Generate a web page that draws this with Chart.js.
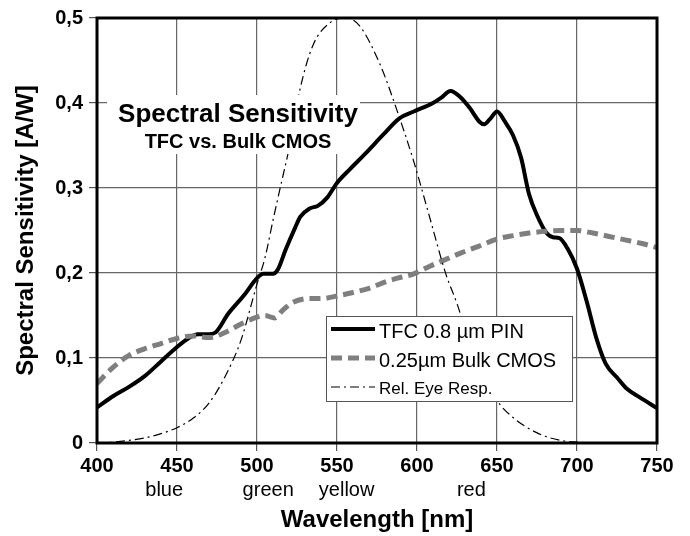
<!DOCTYPE html>
<html>
<head>
<meta charset="utf-8">
<script src="https://cdn.jsdelivr.net/npm/chart.js@4.4.0/dist/chart.umd.min.js"></script>
<style>
html, body { margin: 0; padding: 0; background: #fff; }
#wrap { width: 690px; height: 536px; }
</style>
</head>
<body>
<div id="wrap"><canvas id="chart" width="690" height="536"></canvas></div>
<script>
const FONT = '"Liberation Sans", Arial, Helvetica, sans-serif';

// TFC 0.8 um PIN (wavelength nm / A/W)
const tfcWave = [400, 410, 420, 430, 440, 450, 457, 463, 470, 474, 482, 492, 500, 504, 510, 513, 518, 524, 527, 533,
  538, 544, 550, 558, 568, 579, 589, 598, 610, 615, 621, 627, 633, 639, 642, 646, 650, 655, 660, 665,
  670, 675, 681, 685, 689, 694, 700, 706, 712, 718, 725, 731, 739, 750];
const tfcValues = [0.042, 0.055, 0.066, 0.079, 0.096, 0.113, 0.123, 0.128, 0.128, 0.130, 0.152, 0.174, 0.194, 0.199, 0.199, 0.204, 0.228, 0.254, 0.266, 0.276,
  0.279, 0.289, 0.306, 0.322, 0.341, 0.363, 0.382, 0.390, 0.400, 0.406, 0.414, 0.407, 0.394, 0.378, 0.375, 0.382, 0.390, 0.378, 0.362, 0.336,
  0.293, 0.268, 0.247, 0.242, 0.241, 0.229, 0.205, 0.167, 0.124, 0.093, 0.077, 0.064, 0.054, 0.041];

// 0.25um bulk CMOS
const cmosWave = [400, 410, 420, 430, 440, 450, 460, 470, 480, 490, 500, 505, 511, 516, 522, 533, 541, 550, 560, 570,
  581, 590, 598, 608, 618, 628, 638, 650, 660, 670, 680, 690, 700, 710, 720, 730, 740, 750];
const cmosValues = [0.070, 0.089, 0.103, 0.111, 0.117, 0.123, 0.126, 0.124, 0.130, 0.140, 0.148, 0.150, 0.147, 0.156, 0.165, 0.170, 0.170, 0.173, 0.177, 0.182,
  0.190, 0.195, 0.199, 0.208, 0.216, 0.224, 0.231, 0.240, 0.244, 0.247, 0.249, 0.250, 0.250, 0.247, 0.243, 0.239, 0.235, 0.230];

// relative eye response (scaled to 0.5)
const eyeWave = [400, 410, 420, 430, 440, 450, 460, 470, 480, 490, 500, 505, 510, 514, 521, 527, 535, 546, 555, 564,
  577, 587, 598, 608, 618, 625, 630, 639, 650, 660, 669, 680, 690, 700, 710, 750];
const eyeValues = [0, 0.001, 0.003, 0.006, 0.011, 0.018, 0.029, 0.047, 0.078, 0.121, 0.187, 0.218, 0.262, 0.296, 0.355, 0.417, 0.468, 0.495, 0.500, 0.491,
  0.445, 0.394, 0.331, 0.265, 0.199, 0.164, 0.135, 0.090, 0.050, 0.030, 0.018, 0.008, 0.003, 0.001, 0, 0];

const colorNames = ['blue', 'green', 'yellow', 'red'];
const colorWaves = [442, 507, 556, 634];

const legendLabels = ['TFC 0.8 µm PIN', '0.25µm Bulk CMOS', 'Rel. Eye Resp.'];
const chartTitle = 'Spectral Sensitivity';
const chartSubtitle = 'TFC vs. Bulk CMOS';

function toPoints(xs, ys) {
  return xs.map((x, i) => ({ x: x, y: ys[i] }));
}

// title box, legend box, colour names and plot frame
const overlay = {
  id: 'overlay',
  afterDatasetsDraw(chart) {
    const ctx = chart.ctx;
    const a = chart.chartArea;
    const xs = chart.scales.x;
    ctx.save();

    // title box sits on top of the curves
    ctx.fillStyle = '#fff';
    ctx.fillRect(a.left + 10, a.top + 77, 253, 59);
    ctx.fillStyle = '#000';
    ctx.textAlign = 'center';
    ctx.textBaseline = 'alphabetic';
    ctx.font = 'bold 26px ' + FONT;
    ctx.fillText(chartTitle, 238, a.top + 104);
    ctx.font = 'bold 20px ' + FONT;
    ctx.fillText(chartSubtitle, 238, a.top + 130);

    // legend
    const lx = 326, ly = 316, lw = 246, lh = 85;
    ctx.fillStyle = '#fff';
    ctx.fillRect(lx, ly, lw, lh);
    ctx.strokeStyle = '#555';
    ctx.lineWidth = 1;
    ctx.strokeRect(lx + 0.5, ly + 0.5, lw, lh);
    const order = [2, 1, 0];
    const rows = [13, 42, 71];
    const fonts = ['20px ', '20px ', '17px '];
    order.forEach((di, i) => {
      const ds = chart.data.datasets[di];
      const y = ly + rows[i];
      ctx.beginPath();
      ctx.strokeStyle = ds.borderColor;
      ctx.lineWidth = ds.borderWidth;
      ctx.setLineDash(ds.borderDash || []);
      ctx.moveTo(lx + 5, y);
      ctx.lineTo(lx + 49, y);
      ctx.stroke();
      ctx.setLineDash([]);
      ctx.fillStyle = '#000';
      ctx.textAlign = 'left';
      ctx.font = fonts[i] + FONT;
      ctx.fillText(legendLabels[i], lx + 53, y + (i === 2 ? 7 : 9));
    });

    // colour names under the wavelength ticks
    ctx.fillStyle = '#000';
    ctx.textAlign = 'center';
    ctx.font = '20px ' + FONT;
    colorNames.forEach((n, i) => {
      ctx.fillText(n, xs.getPixelForValue(colorWaves[i]), a.bottom + 53);
    });

    // frame
    ctx.strokeStyle = '#000';
    ctx.lineWidth = 3;
    ctx.strokeRect(a.left, a.top, a.right - a.left, a.bottom - a.top);
    ctx.restore();
  }
};

const ctx = document.getElementById('chart').getContext('2d');
const chart = new Chart(ctx, {
  type: 'line',
  data: {
    datasets: [
      {
        label: legendLabels[2],
        data: toPoints(eyeWave, eyeValues),
        borderColor: '#000',
        borderWidth: 1.2,
        borderDash: [9, 4, 2, 4],
        pointRadius: 0,
        cubicInterpolationMode: 'monotone'
      },
      {
        label: legendLabels[1],
        data: toPoints(cmosWave, cmosValues),
        borderColor: '#7f7f7f',
        borderWidth: 5,
        borderDash: [11, 6],
        pointRadius: 0,
        cubicInterpolationMode: 'monotone'
      },
      {
        label: legendLabels[0],
        data: toPoints(tfcWave, tfcValues),
        borderColor: '#000',
        borderWidth: 4,
        pointRadius: 0,
        cubicInterpolationMode: 'monotone'
      }
    ]
  },
  options: {
    responsive: false,
    animation: false,
    layout: { padding: { top: 16, right: 33, bottom: 0, left: 0 } },
    plugins: {
      legend: { display: false },
      tooltip: { enabled: false }
    },
    scales: {
      x: {
        type: 'linear',
        min: 400,
        max: 750,
        afterFit: (s) => { s.height = 93; },
        ticks: {
          stepSize: 50,
          color: '#000',
          padding: 3,
          maxRotation: 0,
          font: { family: FONT, size: 20, weight: 'bold' }
        },
        grid: { color: '#666', lineWidth: 1.2, tickLength: 8, tickColor: '#555' },
        border: { display: false },
        title: {
          display: true,
          text: 'Wavelength [nm]',
          color: '#000',
          padding: { top: 0, bottom: 1 },
          font: { family: FONT, size: 24, weight: 'bold' }
        }
      },
      y: {
        min: 0,
        max: 0.5,
        afterFit: (s) => { s.width = 97; },
        ticks: {
          stepSize: 0.1,
          color: '#000',
          padding: 6,
          font: { family: FONT, size: 20, weight: 'bold' },
          callback: (v) => (v === 0 ? '0' : v.toFixed(1).replace('.', ','))
        },
        grid: { color: '#666', lineWidth: 1.2, tickLength: 8, tickColor: '#555' },
        border: { display: false },
        title: {
          display: true,
          text: 'Spectral Sensitivity [A/W]',
          color: '#000',
          padding: { top: 12, bottom: 0 },
          font: { family: FONT, size: 24, weight: 'bold' }
        }
      }
    }
  },
  plugins: [overlay]
});
</script>
</body>
</html>
